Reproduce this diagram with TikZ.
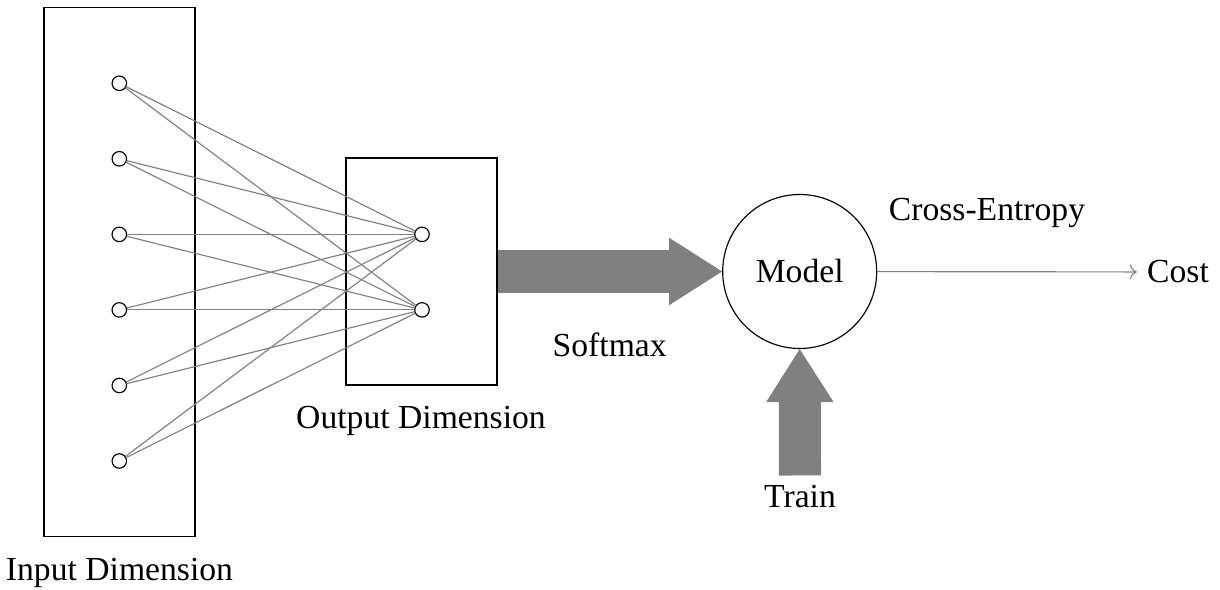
\documentclass[tikz,border=0pt]{standalone}
\usepackage{fontspec}
\setmainfont{Liberation Serif}
\usetikzlibrary{arrows.meta}
\begin{document}
\begin{tikzpicture}[x=0.3448pt,y=-0.3448pt,
  every node/.style={font=\fontsize{11.6}{14}\selectfont},
  neuron/.style={circle,draw=black,fill=white,line width=0.4pt,minimum size=5pt,inner sep=0pt},
  box/.style={rectangle,draw=black,line width=0.4pt,inner sep=0pt},
  lbl/.style={inner sep=3.33pt,anchor=base},
  wire/.style={draw=gray,line width=0.4pt},
  fat/.style={draw=gray,line width=14.5pt,-{Triangle[width=23.3pt,length=18.3pt,line width=0pt]}}]
\useasboundingbox (0,0) rectangle (1220,590);
% boxes
\node[box,minimum width=52.07pt,minimum height=182.5pt] (inbox) at (119.5,272) {};
\node[box,minimum width=52.07pt,minimum height=78.3pt] (outbox) at (421.5,271.5) {};
% neurons
\foreach \i/\y in {1/83.3,2/158.8,3/234.4,4/309.9,5/385.5,6/461}
  \node[neuron] (i\i) at (119.3,\y) {};
\node[neuron] (o1) at (422,234.4) {};
\node[neuron] (o2) at (422,309.9) {};
\foreach \i in {1,...,6}
  \foreach \j in {1,2}
    \draw[wire] (i\i) -- (o\j);
% labels
\node[lbl] (inlbl) at (119.5,581) {Input Dimension};
\node[lbl] (outlbl) at (421,429) {Output Dimension};
\node[lbl] (softmax) at (609.7,357) {Softmax};
\node[lbl] (xent) at (987,220.7) {Cross-Entropy};
\node[lbl] (train) at (800,508) {Train};
% model
\node[circle,draw=black,line width=0.4pt,minimum size=53.1pt,inner sep=0pt] (model) at (799.7,271.5) {Model};
\node (cost) at (1178,272) {Cost};
% connectors
\draw[wire,->] (model) -- (cost);
\draw[fat] (outbox.east) -- (model.west);
\draw[fat] (train.north) -- (model.south);
\end{tikzpicture}
\end{document}
